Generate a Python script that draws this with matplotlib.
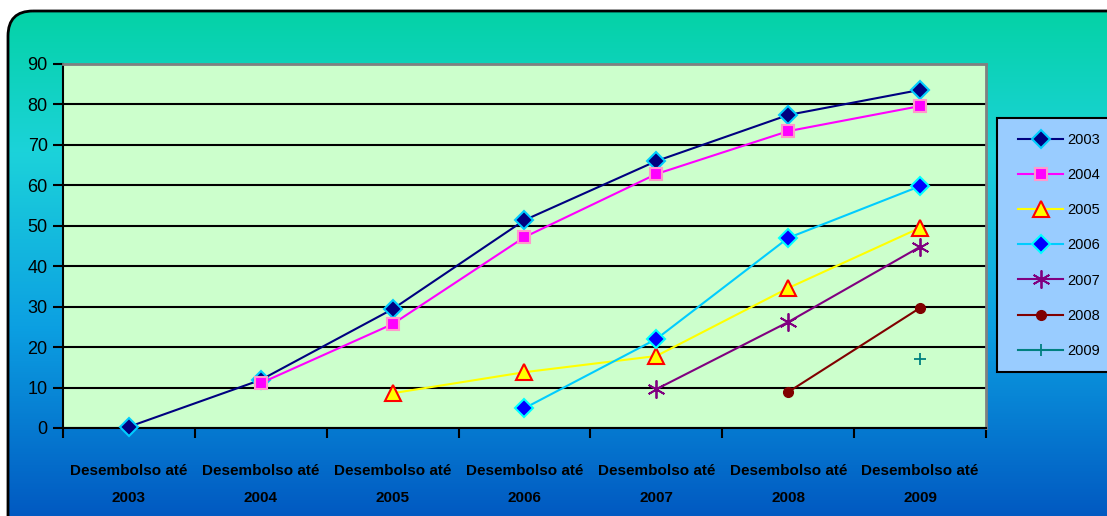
import matplotlib.pyplot as plt
import numpy as np
from matplotlib.patches import FancyBboxPatch, Rectangle
from matplotlib.colors import LinearSegmentedColormap

categorias = ["Desembolso até\n\n2003", "Desembolso até\n\n2004", "Desembolso até\n\n2005",
              "Desembolso até\n\n2006", "Desembolso até\n\n2007", "Desembolso até\n\n2008",
              "Desembolso até\n\n2009"]
nan = np.nan
s2003 = [0.3, 11.9, 29.4, 51.4, 66.0, 77.4, 83.6]
s2004 = [nan, 11.1, 25.7, 47.2, 62.8, 73.4, 79.6]
s2005 = [nan, nan, 8.6, 13.8, 17.8, 34.6, 49.5]
s2006 = [nan, nan, nan, 4.9, 22.0, 47.0, 59.8]
s2007 = [nan, nan, nan, nan, 9.6, 26.2, 44.8]
s2008 = [nan, nan, nan, nan, nan, 8.9, 29.7]
s2009 = [nan, nan, nan, nan, nan, nan, 17.0]
rotulos = ["2003", "2004", "2005", "2006", "2007", "2008", "2009"]

plt.rcParams['font.family'] = ['Liberation Sans', 'DejaVu Sans']

fig = plt.figure(figsize=(11.07, 5.16), dpi=100)
W, H = 1107, 516

# fundo com degradê e cantos arredondados
bg = fig.add_axes([0, 0, 1, 1], zorder=-10)
bg.set_xlim(0, W)
bg.set_ylim(H, 0)
bg.axis('off')
cmap = LinearSegmentedColormap.from_list('fundo', [(0.0, '#04D3A6'), (0.27, '#1CD2DA'),
                                                   (0.6, '#0CA0E2'), (1.0, '#0052BE')])
grad = np.linspace(0, 1, 256).reshape(-1, 1)
img = bg.imshow(grad, cmap=cmap, extent=[8, W + 20, H + 20, 11], aspect='auto')
caixa = FancyBboxPatch((8, 11), W + 20, H + 20, boxstyle="round,pad=0,rounding_size=25",
                       facecolor='none', edgecolor='black', linewidth=2)
bg.add_patch(caixa)
img.set_clip_path(caixa)

# caixa da legenda
bg.add_patch(Rectangle((997, 118), W, 254, facecolor='#99CCFF', edgecolor='black', linewidth=1.5))

ax = fig.add_axes([63 / W, 1 - 428 / H, (986 - 63) / W, (428 - 64) / H])
ax.set_facecolor('#CCFFCC')
x = np.arange(len(categorias))

series = [s2003, s2004, s2005, s2006, s2007, s2008, s2009]
estilos = [
    dict(color='#000080', marker='D', markersize=9, markerfacecolor='#000080', markeredgecolor='#00CCFF', markeredgewidth=1.5),
    dict(color='#FF00FF', marker='s', markersize=9, markerfacecolor='#FF00FF', markeredgecolor='#FF99CC', markeredgewidth=1.5),
    dict(color='#FFFF00', marker='^', markersize=12, markerfacecolor='#FFFF00', markeredgecolor='#FF0000', markeredgewidth=1.5),
    dict(color='#00CCFF', marker='D', markersize=9, markerfacecolor='#0000FF', markeredgecolor='#00FFFF', markeredgewidth=1.5),
    dict(color='#800080', marker=(6, 2, 0), markersize=13, markerfacecolor='#800080', markeredgecolor='#800080', markeredgewidth=1.3),
    dict(color='#800000', marker='o', markersize=7, markerfacecolor='#800000', markeredgecolor='#800000'),
    dict(color='#008080', marker='+', markersize=8, markerfacecolor='#008080', markeredgecolor='#008080', markeredgewidth=1.3),
]
for s, est, rot in zip(series, estilos, rotulos):
    ax.plot(x, s, linewidth=1.5, label=rot, clip_on=False, zorder=3, **est)

ax.set_xlim(-0.5, len(categorias) - 0.5)
ax.set_ylim(0, 90)
ax.set_yticks(range(0, 91, 10))
ax.yaxis.grid(True, color='black', linewidth=1.5)
ax.set_axisbelow(True)
ax.set_xticks(np.arange(-0.5, len(categorias), 1.0))
ax.set_xticklabels([])
ax.set_xticks(x, minor=True)
ax.set_xticklabels(categorias, minor=True, fontsize=11, fontweight='bold', linespacing=0.95)
ax.tick_params(axis='x', which='minor', length=0, pad=26)
ax.tick_params(axis='x', which='major', length=7, width=1.5, direction='out')
ax.tick_params(axis='y', length=7, width=1.5, labelsize=13, pad=4)
ax.spines['left'].set_linewidth(1.5)
ax.spines['bottom'].set_linewidth(1.5)
ax.spines['top'].set_color('#808080')
ax.spines['right'].set_color('#808080')
ax.spines['top'].set_linewidth(2)
ax.spines['right'].set_linewidth(2)

leg = fig.legend(loc='upper left', bbox_to_anchor=(1018 / W, 1 - 133 / H), fontsize=10.5,
                 frameon=False, labelspacing=1.45, handlelength=3.1, handletextpad=0.3,
                 borderpad=0, borderaxespad=0)

fig.savefig('out.png', dpi=100)
